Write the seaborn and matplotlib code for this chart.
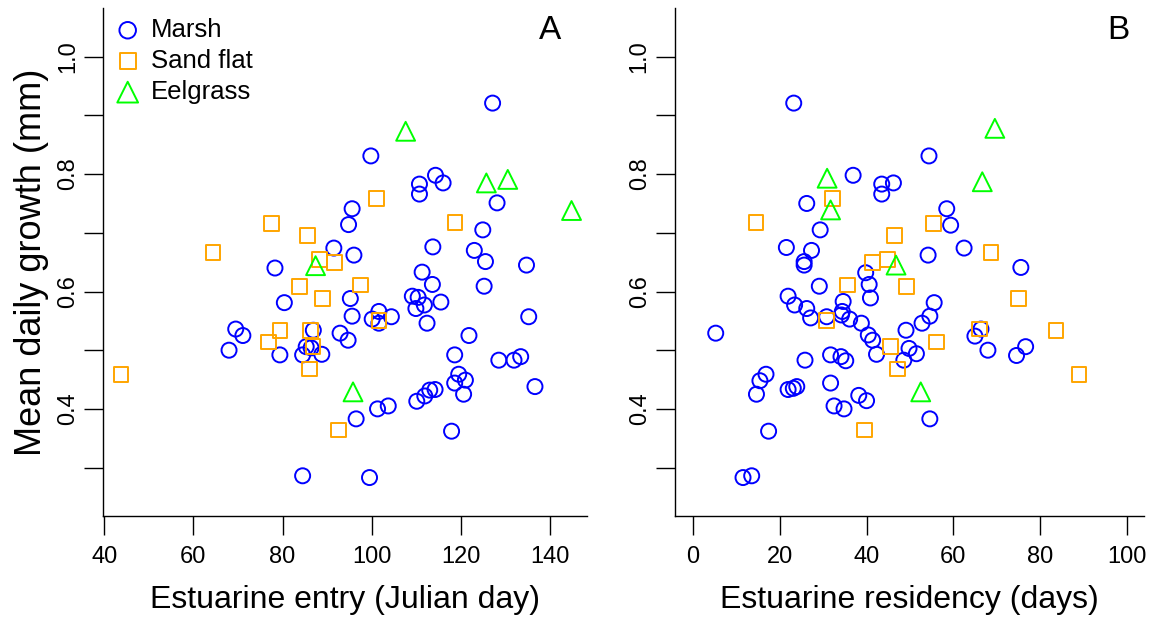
import matplotlib
matplotlib.use("Agg")
import matplotlib.pyplot as plt
import seaborn as sns
import pandas as pd

# Panel A: estuarine entry (Julian day) vs mean daily growth (mm)
marsh_entry = [127.1, 99.8, 110.7, 110.7, 114.3, 116.0, 128.1, 95.6, 94.8, 124.9,
               113.7, 123.0, 96.0, 91.5, 78.3, 80.4, 69.5, 71.1, 68.0, 86.9,
               92.9, 94.7, 79.4, 84.5, 85.3, 86.4, 88.8, 84.5, 125.5, 134.7,
               111.3, 113.6, 125.2, 95.2, 109.1, 110.4, 109.9, 111.8, 115.5, 112.4,
               135.2, 95.6, 100.1, 101.6, 101.6, 104.4, 121.8, 118.6, 128.5, 131.9,
               133.4, 118.6, 119.5, 121.0, 120.6, 110.1, 111.9, 113.0, 114.2, 101.3,
               103.7, 96.5, 136.6, 117.9, 99.5]
marsh_entry_growth = [0.921, 0.831, 0.783, 0.766, 0.798, 0.785, 0.751, 0.741, 0.714, 0.705,
                      0.676, 0.670, 0.662, 0.674, 0.640, 0.581, 0.536, 0.525, 0.500, 0.534,
                      0.529, 0.517, 0.492, 0.492, 0.506, 0.504, 0.493, 0.286, 0.651, 0.645,
                      0.633, 0.612, 0.609, 0.588, 0.592, 0.590, 0.571, 0.577, 0.582, 0.546,
                      0.557, 0.558, 0.553, 0.566, 0.546, 0.557, 0.525, 0.492, 0.483, 0.483,
                      0.489, 0.444, 0.459, 0.449, 0.425, 0.413, 0.422, 0.432, 0.433, 0.400,
                      0.405, 0.383, 0.438, 0.362, 0.283]
sand_entry = [43.8, 64.4, 77.5, 85.6, 88.3, 91.6, 83.8, 89.0, 79.4, 76.9,
              86.2, 86.8, 86.0, 92.5, 97.5, 101.0, 118.7, 101.6]
sand_entry_growth = [0.459, 0.667, 0.716, 0.695, 0.654, 0.650, 0.608, 0.588, 0.534, 0.514,
                     0.534, 0.506, 0.468, 0.364, 0.611, 0.758, 0.717, 0.551]
eel_entry = [87.4, 95.8, 107.6, 125.7, 130.5, 144.8]
eel_entry_growth = [0.644, 0.429, 0.873, 0.785, 0.791, 0.738]

# Panel B: estuarine residency (days) vs mean daily growth (mm)
marsh_res = [23.2, 36.9, 43.5, 46.2, 43.5, 26.2, 29.3, 21.5, 27.3, 54.4,
             58.5, 59.4, 62.5, 54.2, 25.6, 25.6, 39.8, 40.6, 40.9, 29.1,
             21.9, 23.4, 26.2, 27.1, 34.6, 34.4, 36.1, 34.2, 30.8, 38.8,
             40.4, 41.4, 5.2, 49.1, 49.8, 48.6, 51.5, 42.3, 25.8, 31.7,
             34.1, 35.2, 16.8, 15.4, 14.6, 21.9, 23.1, 23.9, 31.7, 32.5,
             34.8, 38.2, 40.0, 17.4, 11.5, 13.5, 75.6, 55.6, 54.6, 52.8,
             65.0, 66.4, 68.0, 74.6, 76.7, 54.6]
marsh_res_growth = [0.921, 0.798, 0.783, 0.785, 0.766, 0.750, 0.705, 0.675, 0.670, 0.831,
                    0.741, 0.713, 0.674, 0.662, 0.651, 0.645, 0.632, 0.612, 0.589, 0.609,
                    0.592, 0.577, 0.571, 0.555, 0.583, 0.566, 0.553, 0.560, 0.557, 0.546,
                    0.526, 0.517, 0.529, 0.534, 0.503, 0.483, 0.494, 0.493, 0.483, 0.492,
                    0.489, 0.482, 0.459, 0.448, 0.425, 0.433, 0.435, 0.438, 0.444, 0.405,
                    0.400, 0.423, 0.414, 0.362, 0.283, 0.286, 0.641, 0.581, 0.558, 0.546,
                    0.524, 0.536, 0.500, 0.491, 0.506, 0.383]
sand_res = [14.5, 32.2, 46.5, 41.4, 44.8, 35.6, 49.2, 30.8, 45.5, 47.1,
            39.6, 55.5, 68.7, 75.1, 56.1, 66.1, 83.7, 89.0]
sand_res_growth = [0.717, 0.758, 0.695, 0.650, 0.654, 0.611, 0.608, 0.551, 0.506, 0.468,
                   0.364, 0.716, 0.666, 0.588, 0.514, 0.536, 0.534, 0.459]
eel_res = [30.9, 31.7, 69.6, 66.7, 46.8, 52.5]
eel_res_growth = [0.793, 0.739, 0.878, 0.787, 0.645, 0.429]

habitats = ["Marsh", "Sand flat", "Eelgrass"]
colors = {"Marsh": "#0000FF", "Sand flat": "#FFA500", "Eelgrass": "#00FF00"}
markers = {"Marsh": "o", "Sand flat": "s", "Eelgrass": "^"}
sizes = {"Marsh": 117, "Sand flat": 112, "Eelgrass": 185}

y_ticks = [0.3, 0.4, 0.5, 0.6, 0.7, 0.8, 0.9, 1.0]
y_ticklabels = ["", "0.4", "", "0.6", "", "0.8", "", "1.0"]


def make_df(xs, ys):
    rows = []
    for hab, x, y in zip(habitats, xs, ys):
        rows.append(pd.DataFrame({"x": x, "growth": y, "habitat": hab}))
    return pd.concat(rows, ignore_index=True)


df_a = make_df([marsh_entry, sand_entry, eel_entry],
               [marsh_entry_growth, sand_entry_growth, eel_entry_growth])
df_b = make_df([marsh_res, sand_res, eel_res],
               [marsh_res_growth, sand_res_growth, eel_res_growth])

sns.set_style("ticks")
plt.rcParams['font.family'] = ['Liberation Sans', 'DejaVu Sans']
plt.rcParams['text.color'] = 'black'
plt.rcParams['axes.labelcolor'] = 'black'

fig = plt.figure(figsize=(11.54, 6.17), dpi=100)
ax_a = fig.add_axes([0.0895, 0.1637, 0.4189, 0.8233])
ax_b = fig.add_axes([0.5849, 0.1637, 0.4064, 0.8233])


def draw_panel(ax, df, xlim, xticks, xlabel, letter, letter_x):
    for hab in habitats:
        d = df[df["habitat"] == hab]
        sns.scatterplot(data=d, x="x", y="growth", ax=ax, marker=markers[hab],
                        color=colors[hab], facecolor="none", edgecolor=colors[hab],
                        s=sizes[hab], linewidth=1.4, label=hab, legend=False)
    ax.set_xlim(*xlim)
    ax.set_ylim(0.2175, 1.083)
    ax.set_xticks(xticks)
    ax.set_yticks(y_ticks)
    ax.set_yticklabels(y_ticklabels)
    ax.tick_params(axis="both", length=13.5, width=1.0, color="black",
                   labelsize=17, labelcolor="black")
    ax.tick_params(axis="x", pad=8)
    ax.tick_params(axis="y", labelrotation=90, pad=4)
    for lbl in ax.get_yticklabels():
        lbl.set_va("center")
    for side in ["top", "right"]:
        ax.spines[side].set_visible(False)
    for side in ["left", "bottom"]:
        ax.spines[side].set_color("black")
        ax.spines[side].set_linewidth(1.0)
    ax.set_xlabel(xlabel, fontsize=23, labelpad=12)
    ax.set_ylabel("")
    ax.text(letter_x, 0.955, letter, transform=ax.transAxes, fontsize=24,
            ha="center", va="center")
    if ax.get_legend() is not None:
        ax.get_legend().remove()


draw_panel(ax_a, df_a, (39.8, 148.2), [40, 60, 80, 100, 120, 140],
           "Estuarine entry (Julian day)", "A", 0.924)
draw_panel(ax_b, df_b, (-4.2, 104.0), [0, 20, 40, 60, 80, 100],
           "Estuarine residency (days)", "B", 0.945)

ax_a.set_ylabel("Mean daily growth (mm)", fontsize=26, labelpad=6)

handles, labels = ax_a.get_legend_handles_labels()
ax_a.legend(handles, labels, loc="upper left", bbox_to_anchor=(0, 0.993),
            frameon=False, fontsize=18.5, handlelength=1.4, handletextpad=0.2,
            borderaxespad=0.0, borderpad=0.25, labelspacing=0.27, markerscale=1.1)

fig.savefig("out.png", dpi=100)
